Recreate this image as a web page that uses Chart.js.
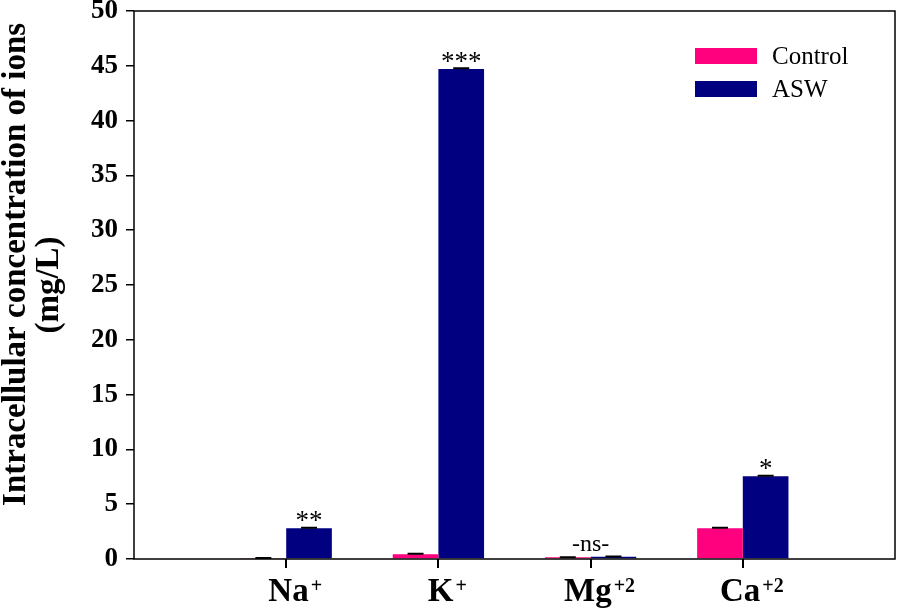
<!DOCTYPE html>
<html>
<head>
<meta charset="utf-8">
<script src="https://cdn.jsdelivr.net/npm/chart.js@4.4.0/dist/chart.umd.min.js"></script>
<style>
  html, body { margin: 0; padding: 0; background: #fff; }
  #wrap { width: 898px; height: 609px; }
</style>
</head>
<body>
<div id="wrap"><canvas id="chart"></canvas></div>
<script>
const ions = ["Na", "K", "Mg", "Ca"];
const charges = ["+", "+", "+2", "+2"];
const controlValues = [0.08, 0.43, 0.15, 2.8];
const aswValues = [2.8, 44.7, 0.2, 7.55];
const controlErrors = [0.02, 0.04, 0.02, 0.04];
const aswErrors = [0.05, 0.08, 0.03, 0.05];
const significance = ["**", "***", "-ns-", "*"];
const yTicks = [0, 5, 10, 15, 20, 25, 30, 35, 40, 45, 50];

const serif = "'Liberation Serif', 'Times New Roman', serif";

// empty slots at both ends so the ions sit at 1..4 of a 0..5 axis
const labels = ["", ...ions, ""];
const pad = arr => [null, ...arr, null];

const frame = {
    id: "frame",
    afterDraw(c) {
        const ctx = c.ctx;
        const a = c.chartArea;
        const x = c.scales.x, y = c.scales.y;
        ctx.save();
        ctx.strokeStyle = "#000";
        ctx.lineWidth = 1.5;
        ctx.strokeRect(a.left, a.top, a.right - a.left, a.bottom - a.top);

        // error caps
        c.data.datasets.forEach((ds, di) => {
            const meta = c.getDatasetMeta(di);
            meta.data.forEach((bar, i) => {
                const v = ds.data[i];
                if (v == null) return;
                const e = ds.errors[i - 1];
                const yp = y.getPixelForValue(v + e);
                ctx.lineWidth = 2;
                ctx.beginPath();
                ctx.moveTo(bar.x - 8, yp);
                ctx.lineTo(bar.x + 8, yp);
                ctx.moveTo(bar.x, yp);
                ctx.lineTo(bar.x, bar.y);
                ctx.stroke();
            });
        });

        // significance marks
        const aswMeta = c.getDatasetMeta(1);
        ctx.fillStyle = "#000";
        ctx.textAlign = "center";
        ctx.textBaseline = "alphabetic";
        significance.forEach((s, i) => {
            const bar = aswMeta.data[i + 1];
            if (s === "-ns-") {
                ctx.font = "24px " + serif;
                ctx.fillText(s, x.getPixelForTick(i + 1), bar.y - 6);
            } else {
                ctx.font = "27px " + serif;
                ctx.fillText(s, bar.x, bar.y + 1);
            }
        });

        // x labels with raised charges, and a tick mark above each
        ions.forEach((ion, i) => {
            const tx = x.getPixelForTick(i + 1);
            ctx.fillStyle = "#000";
            ctx.fillRect(Math.round(tx) - 1, a.bottom, 2, 9);

            const cx = tx + 8;
            ctx.font = "bold 33px " + serif;
            const w1 = ctx.measureText(ion).width;
            ctx.font = "bold 20px " + serif;
            const w2 = ctx.measureText(charges[i]).width;
            const start = cx - (w1 + w2) / 2;
            ctx.textAlign = "left";
            ctx.font = "bold 33px " + serif;
            ctx.fillText(ion, start, 601);
            ctx.font = "bold 20px " + serif;
            ctx.fillText(charges[i], start + w1 + 2, 592);
        });

        // legend
        c.data.datasets.forEach((ds, di) => {
            const top = 48 + di * 33;
            ctx.fillStyle = ds.backgroundColor;
            ctx.fillRect(695, top, 62, 16);
            ctx.fillStyle = "#000";
            ctx.font = "25px " + serif;
            ctx.textBaseline = "middle";
            ctx.fillText(ds.label, 772, top + 9);
            ctx.textBaseline = "alphabetic";
        });
        ctx.restore();
    }
};

new Chart(document.getElementById("chart"), {
    type: "bar",
    data: {
        labels: labels,
        datasets: [
            { label: "Control", data: pad(controlValues), errors: controlErrors, backgroundColor: "#ff007f" },
            { label: "ASW", data: pad(aswValues), errors: aswErrors, backgroundColor: "#000080" }
        ]
    },
    options: {
        responsive: true,
        maintainAspectRatio: false,
        animation: false,
        layout: { padding: { top: 11, right: 3, left: 0, bottom: 0 } },
        datasets: { bar: { categoryPercentage: 0.6, barPercentage: 1.0 } },
        plugins: { legend: { display: false }, tooltip: { enabled: false } },
        scales: {
            x: {
                offset: false,
                border: { display: false },
                grid: { display: false },
                ticks: { display: false },
                afterFit: s => {
                    s.height = 50;
                    s.paddingLeft = 0;
                    s.paddingRight = 0;
                }
            },
            y: {
                min: 0,
                max: 50,
                border: { display: false },
                afterBuildTicks: s => { s.ticks = yTicks.map(v => ({ value: v })); },
                grid: { drawOnChartArea: false, tickLength: 8, lineWidth: 1.5, color: "#000" },
                ticks: {
                    padding: 8,
                    color: "#000",
                    font: { family: serif, size: 27, weight: "bold" }
                },
                title: {
                    display: true,
                    text: ["\u00a0\u00a0\u00a0\u00a0\u00a0Intracellular concentration of ions", "(mg/L)"],
                    color: "#000",
                    font: { family: serif, size: 33, weight: "bold", lineHeight: 1.0 },
                    padding: { top: 0, bottom: 0 }
                },
                afterFit: s => {
                    s.width = 134;
                    s.paddingTop = 0;
                    s.paddingBottom = 0;
                }
            }
        }
    },
    plugins: [frame]
});
</script>
</body>
</html>
